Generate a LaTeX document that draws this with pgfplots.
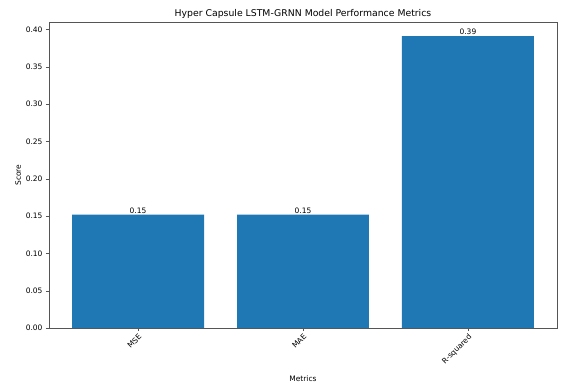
\documentclass[border=0pt]{standalone}
\usepackage{pgfplots}
\pgfplotsset{compat=1.18}
\usepackage{fontspec}
\setmainfont{DejaVu Sans}
\definecolor{barblue}{HTML}{1F77B4}
\definecolor{spine}{HTML}{555555}
\begin{document}
\begin{tikzpicture}
\begin{axis}[
  name=ax,
  scale only axis, width=508pt, height=306pt,
  xmin=-0.54, xmax=2.54, ymin=0, ymax=0.41,
  ybar, bar width=0.8,
  xtick={0,1,2}, xticklabels={MSE,MAE,R-squared},
  x tick label style={rotate=45, anchor=north east, font=\fontsize{7.5}{9}\selectfont, inner sep=1.5pt},
  ytick={0,0.05,0.10,0.15,0.20,0.25,0.30,0.35,0.40},
  yticklabel style={/pgf/number format/fixed, /pgf/number format/fixed zerofill, /pgf/number format/precision=2, font=\fontsize{7.5}{9}\selectfont},
  /pgf/number format/assume math mode=true,
  scaled y ticks=false,
  tick align=outside, tick pos=left,
  major tick length=3pt,
  axis line style={spine},
  tick style={spine},
  title={Hyper Capsule LSTM-GRNN Model Performance Metrics},
  title style={font=\fontsize{9.3}{11}\selectfont, yshift=-6pt},
  xlabel={Metrics}, ylabel={Score},
  label style={font=\fontsize{7.5}{9}\selectfont},
  xlabel style={yshift=-5pt},
  ylabel style={yshift=-2pt},
  nodes near coords,
  nodes near coords style={font=\fontsize{7.5}{9}\selectfont, /pgf/number format/fixed, /pgf/number format/fixed zerofill, /pgf/number format/precision=2, inner sep=1pt},
]
\addplot[fill=barblue, draw=none] coordinates {(0,0.152) (1,0.152) (2,0.391)};
\end{axis}
\path ([shift={(-49pt,-61pt)}]ax.south west) rectangle ([shift={(4pt,22pt)}]ax.north east);
\end{tikzpicture}
\end{document}
